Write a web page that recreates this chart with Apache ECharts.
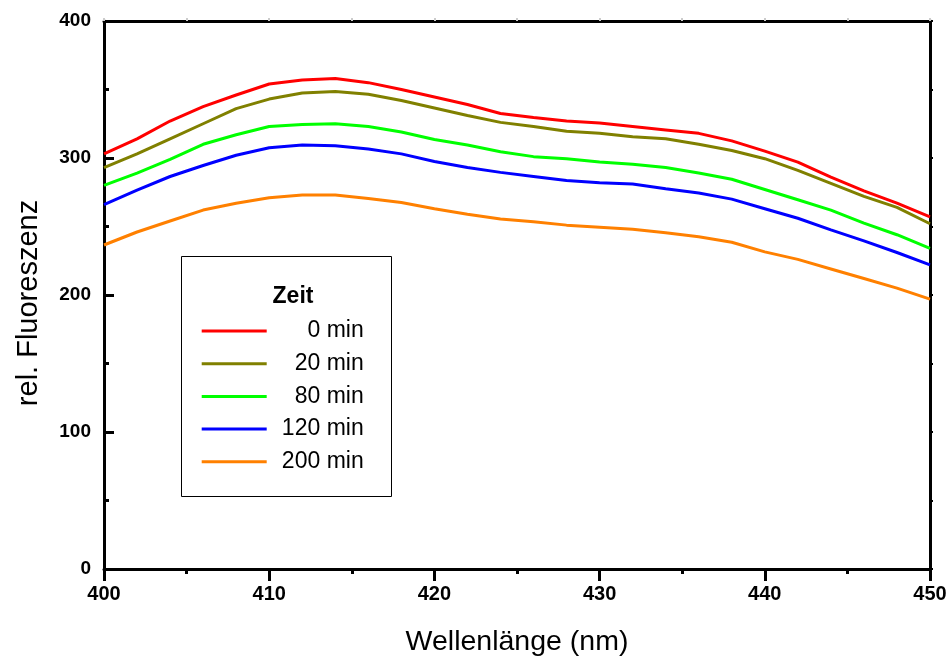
<!DOCTYPE html>
<html>
<head>
<meta charset="utf-8">
<script src="https://cdn.jsdelivr.net/npm/echarts@6/dist/echarts.min.js"></script>
<style>html,body{margin:0;padding:0;background:#fff;}#c{width:951px;height:658px;}</style>
</head>
<body>
<div id="c"></div>
<script>
const wavelengths = [400,402,404,406,408,410,412,414,416,418,420,422,424,426,428,430,432,434,436,438,440,442,444,446,448,450];
const seriesNames = ['0 min','20 min','80 min','120 min','200 min'];
const seriesColors = ['#ff0000','#808000','#00ff00','#0000ff','#ff8000'];
const min0   = [303,314,327,337.5,346,354,357,358,355,350,344.5,339,332.5,329.5,327,325.5,323,320.5,318,312.5,305,297,286,276,267,257];
const min20  = [293,303,314,325,336,343,347.5,348.5,346.5,342,336.5,331,326,323,319.5,318,315.5,314,310,305.5,299.5,291,281.5,272,264,252];
const min80  = [280,289,299,310,317,323,324.5,325,323,319,313.5,309.5,304.5,301,299.5,297,295.5,293,289,284.5,277,269.5,262,252.5,244,234];
const min120 = [266,276.5,286.5,294.5,302,307.5,309.5,309,306.5,303,297.5,293,289.5,286.5,283.5,282,281,277.5,274.5,270,263,256,247.5,239.5,231,222];
const min200 = [236.5,246,254,262,267,271,273,273,270.5,267.5,263,259,255.5,253.5,251,249.5,248,245.5,242.5,238.5,231.5,226,219,212,205,197];
const yTicks = [0,100,200,300,400];
const xTicks = [400,410,420,430,440,450];
const allValues = [min0,min20,min80,min120,min200];

const chart = echarts.init(document.getElementById('c'), null, {renderer:'canvas'});
const font = 'Arial, "Liberation Sans", Helvetica, sans-serif';

const series = allValues.map((vals,i)=>({
  name: seriesNames[i],
  type: 'line',
  data: wavelengths.map((w,j)=>[w, vals[j]]),
  showSymbol: false,
  symbol: 'none',
  smooth: false,
  lineStyle: {color: seriesColors[i], width: 3},
  itemStyle: {color: seriesColors[i]},
  z: 3
}));

chart.setOption({
  animation: false,
  backgroundColor: '#fff',
  grid: {left: 104, right: 21, top: 21, bottom: 89, containLabel: false, outerBoundsMode: 'none', show: false},
  xAxis: [{
    type: 'value', min: 400, max: 450, interval: 10, position: 'bottom',
    name: 'Wellenlänge (nm)', nameLocation: 'middle', nameGap: 59,
    nameTextStyle: {fontFamily: font, fontSize: 28.5, color: '#000'},
    axisLine: {show: true, onZero: false, lineStyle: {color: '#000', width: 3}},
    axisTick: {show: true, inside: false, length: 12, lineStyle: {color: '#000', width: 3}},
    minorTick: {show: true, splitNumber: 2, length: 5, lineStyle: {color: '#000', width: 3}},
    splitLine: {show: false},
    axisLabel: {fontFamily: font, fontSize: 20, fontWeight: 'bold', color: '#000', margin: 15,
      formatter: v => xTicks.includes(v) ? String(v) : ''}
  },{
    type: 'value', min: 400, max: 450, interval: 10, position: 'top',
    axisLine: {show: true, onZero: false, lineStyle: {color: '#000', width: 3}},
    axisTick: {show: true, inside: false, length: 3, lineStyle: {color: '#ccc', width: 2}},
    minorTick: {show: true, splitNumber: 2, length: 3, lineStyle: {color: '#ccc', width: 2}},
    splitLine: {show: false}, axisLabel: {show: false}
  }],
  yAxis: [{
    type: 'value', min: 0, max: 400, interval: 100, position: 'left',
    name: 'rel. Fluoreszenz', nameLocation: 'middle', nameGap: 61, nameRotate: 90,
    nameTextStyle: {fontFamily: font, fontSize: 29, color: '#000', padding: [0, 16, 0, 0]},
    axisLine: {show: true, onZero: false, lineStyle: {color: '#000', width: 3}},
    axisTick: {show: true, inside: true, length: 10, lineStyle: {color: '#000', width: 3}},
    minorTick: {show: true, splitNumber: 2, length: 5, lineStyle: {color: '#000', width: 3}},
    splitLine: {show: false},
    axisLabel: {fontFamily: font, fontSize: 19, fontWeight: 'bold', color: '#000', margin: 13,
      formatter: v => yTicks.includes(v) ? String(v) : ''}
  },{
    type: 'value', min: 0, max: 400, interval: 100, position: 'right',
    axisLine: {show: true, onZero: false, lineStyle: {color: '#000', width: 3}},
    axisTick: {show: true, inside: false, length: 3, lineStyle: {color: '#000', width: 2}},
    minorTick: {show: true, splitNumber: 2, length: 3, lineStyle: {color: '#000', width: 2}},
    splitLine: {show: false}, axisLabel: {show: false}
  }],
  legend: {
    show: true, orient: 'vertical', left: 201.7, top: 319.5, padding: 0,
    itemWidth: 65, itemHeight: 3, itemGap: 9.7, icon: 'rect',
    data: seriesNames,
    formatter: name => '{a|' + name + '}',
    textStyle: {
      rich: {a: {fontFamily: font, fontSize: 23, color: '#000', width: 92, align: 'right', lineHeight: 20, height: 20}}
    }
  },
  graphic: [
    {type: 'rect', shape: {x: 181.5, y: 256.5, width: 210, height: 240},
     style: {fill: 'rgba(0,0,0,0)', stroke: '#000', lineWidth: 1}, z: 1},
    {type: 'text', x: 293, y: 297, style: {text: 'Zeit', fontFamily: font, fontSize: 23, fontWeight: 'bold',
      fill: '#000', textAlign: 'center', textVerticalAlign: 'middle'}, z: 2}
  ],
  series: series
});
</script>
</body>
</html>
